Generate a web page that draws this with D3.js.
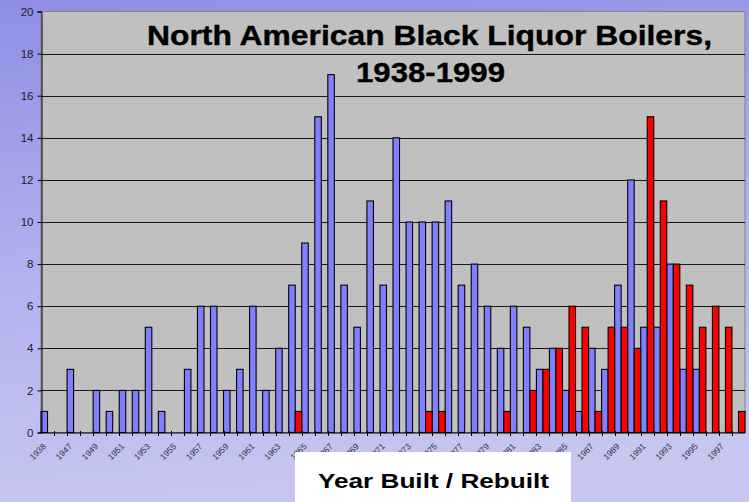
<!DOCTYPE html>
<html>
<head>
<meta charset="utf-8">
<script src="https://cdn.jsdelivr.net/npm/d3@7"></script>
<style>
  html, body { margin: 0; padding: 0; }
  svg { display: block; }
  text { font-family: "Liberation Sans", Arial, Helvetica, sans-serif; }
</style>
</head>
<body>
<svg id="chart" width="749" height="502"></svg>
<script>
// Boiler counts per year: originally built (blue) and rebuilt (red)
const years = ["1938","1946","1947","1948","1949","1950","1951","1952","1953","1954",
  "1955","1956","1957","1958","1959","1960","1961","1962","1963","1964",
  "1965","1966","1967","1968","1969","1970","1971","1972","1973","1974",
  "1975","1976","1977","1978","1979","1980","1981","1982","1983","1984",
  "1985","1986","1987","1988","1989","1990","1991","1992","1993","1994",
  "1995","1996","1997","1998"];

const built = [1,0,3,0,2,1,2,2,5,1,
  0,3,6,6,2,3,6,2,4,7,
  9,15,17,7,5,11,7,14,10,10,
  10,11,7,8,6,4,6,5,3,4,
  2,1,4,3,7,12,5,5,8,3,
  3,0,0,0];

const rebuilt = [0,0,0,0,0,0,0,0,0,0,
  0,0,0,0,0,0,0,0,0,1,
  0,0,0,0,0,0,0,0,0,1,
  1,0,0,0,0,1,0,2,3,4,
  6,5,1,5,5,4,15,11,8,7,
  5,6,5,1];

const yTicks = [0,2,4,6,8,10,12,14,16,18,20];
const titleLines = ["North American Black Liquor Boilers,", "1938-1999"];
const xAxisTitle = "Year Built / Rebuilt";

const series = [
  { key: "built", values: built, color: "#8080ff" },
  { key: "rebuilt", values: rebuilt, color: "#ff0000" }
];

const W = 749, H = 502;
const plot = { left: 41, right: 745, top: 11.5, bottom: 432.5 };

const svg = d3.select("#chart");

// background gradient
const defs = svg.append("defs");
const grad = defs.append("linearGradient").attr("id", "bg")
  .attr("x1", 0).attr("y1", 0).attr("x2", 0.15).attr("y2", 1);
grad.append("stop").attr("offset", "0%").attr("stop-color", "#8e8ee6");
grad.append("stop").attr("offset", "55%").attr("stop-color", "#b2b2ee");
grad.append("stop").attr("offset", "100%").attr("stop-color", "#c6c6f0");
svg.append("rect").attr("width", W).attr("height", H).attr("fill", "url(#bg)");

// scales
const x = d3.scaleBand().domain(years).range([plot.left, plot.right]).padding(0);
const xs = d3.scaleBand().domain(series.map(s => s.key)).range([0, x.bandwidth()]).padding(0);
const y = d3.scaleLinear().domain([0, 20]).range([plot.bottom, plot.top]);

// plot area
svg.append("rect")
  .attr("x", plot.left).attr("y", plot.top)
  .attr("width", plot.right - plot.left).attr("height", plot.bottom - plot.top)
  .attr("fill", "#c0c0c0").attr("stroke", "#808080").attr("stroke-width", 1);

// gridlines
svg.append("g")
  .selectAll("line").data(yTicks.filter(v => v > 0 && v < 20)).join("line")
  .attr("x1", plot.left).attr("x2", plot.right)
  .attr("y1", d => Math.round(y(d)) + 0.5).attr("y2", d => Math.round(y(d)) + 0.5)
  .attr("stroke", "#1a1a1a").attr("stroke-width", 1);

// bars
series.forEach(s => {
  svg.append("g")
    .selectAll("rect")
    .data(years.map((yr, i) => ({ yr, v: s.values[i] })).filter(d => d.v > 0))
    .join("rect")
    .attr("x", d => x(d.yr) + xs(s.key))
    .attr("y", d => y(d.v))
    .attr("width", xs.bandwidth())
    .attr("height", d => y(0) - y(d.v))
    .attr("fill", s.color)
    .attr("stroke", "#000")
    .attr("stroke-width", 1.1);
});

// y axis
const yAxis = d3.axisLeft(y).tickValues(yTicks).tickSize(4).tickPadding(4);
const gy = svg.append("g").attr("transform", `translate(${plot.left + 0.5},0)`).call(yAxis);
gy.select(".domain").attr("stroke", "#000");
gy.selectAll(".tick line").attr("stroke", "#000");
gy.selectAll(".tick text").attr("font-size", 11.5).attr("fill", "#1a1a2a")
  .attr("font-family", "'Liberation Sans', Arial, sans-serif");

// x axis with ticks at every category boundary
const gx = svg.append("g").attr("transform", `translate(0,${plot.bottom + 0.5})`);
gx.append("line").attr("x1", plot.left).attr("x2", plot.right)
  .attr("stroke", "#000").attr("stroke-width", 1);
gx.selectAll("line.tk").data(years.slice(1)).join("line").attr("class", "tk")
  .attr("x1", d => Math.round(x(d)) + 0.5).attr("x2", d => Math.round(x(d)) + 0.5)
  .attr("y1", -2).attr("y2", 3).attr("stroke", "#000");
gx.selectAll("text").data(years.filter((d, i) => i % 2 === 0)).join("text")
  .attr("transform", d => `translate(${x(d) + x.bandwidth() / 2 - 1},${14}) rotate(-45)`)
  .attr("text-anchor", "end")
  .attr("font-size", 8.5)
  .attr("fill", "#333344")
  .text(d => d);

// chart title
svg.append("text")
  .attr("x", 147).attr("y", 45)
  .attr("font-size", 28).attr("font-weight", "bold").attr("fill", "#000")
  .attr("stroke", "#000").attr("stroke-width", 0.4)
  .attr("textLength", 565).attr("lengthAdjust", "spacingAndGlyphs")
  .text(titleLines[0]);
svg.append("text")
  .attr("x", 356).attr("y", 82)
  .attr("font-size", 28).attr("font-weight", "bold").attr("fill", "#000")
  .attr("stroke", "#000").attr("stroke-width", 0.4)
  .attr("textLength", 149).attr("lengthAdjust", "spacingAndGlyphs")
  .text(titleLines[1]);

// x axis title box
svg.append("rect").attr("x", 295).attr("y", 452).attr("width", 276).attr("height", 52)
  .attr("fill", "#ffffff");
svg.append("text")
  .attr("x", 318).attr("y", 488)
  .attr("font-size", 21).attr("font-weight", "bold").attr("fill", "#000")
  .attr("textLength", 231).attr("lengthAdjust", "spacingAndGlyphs")
  .text(xAxisTitle);
</script>
</body>
</html>
